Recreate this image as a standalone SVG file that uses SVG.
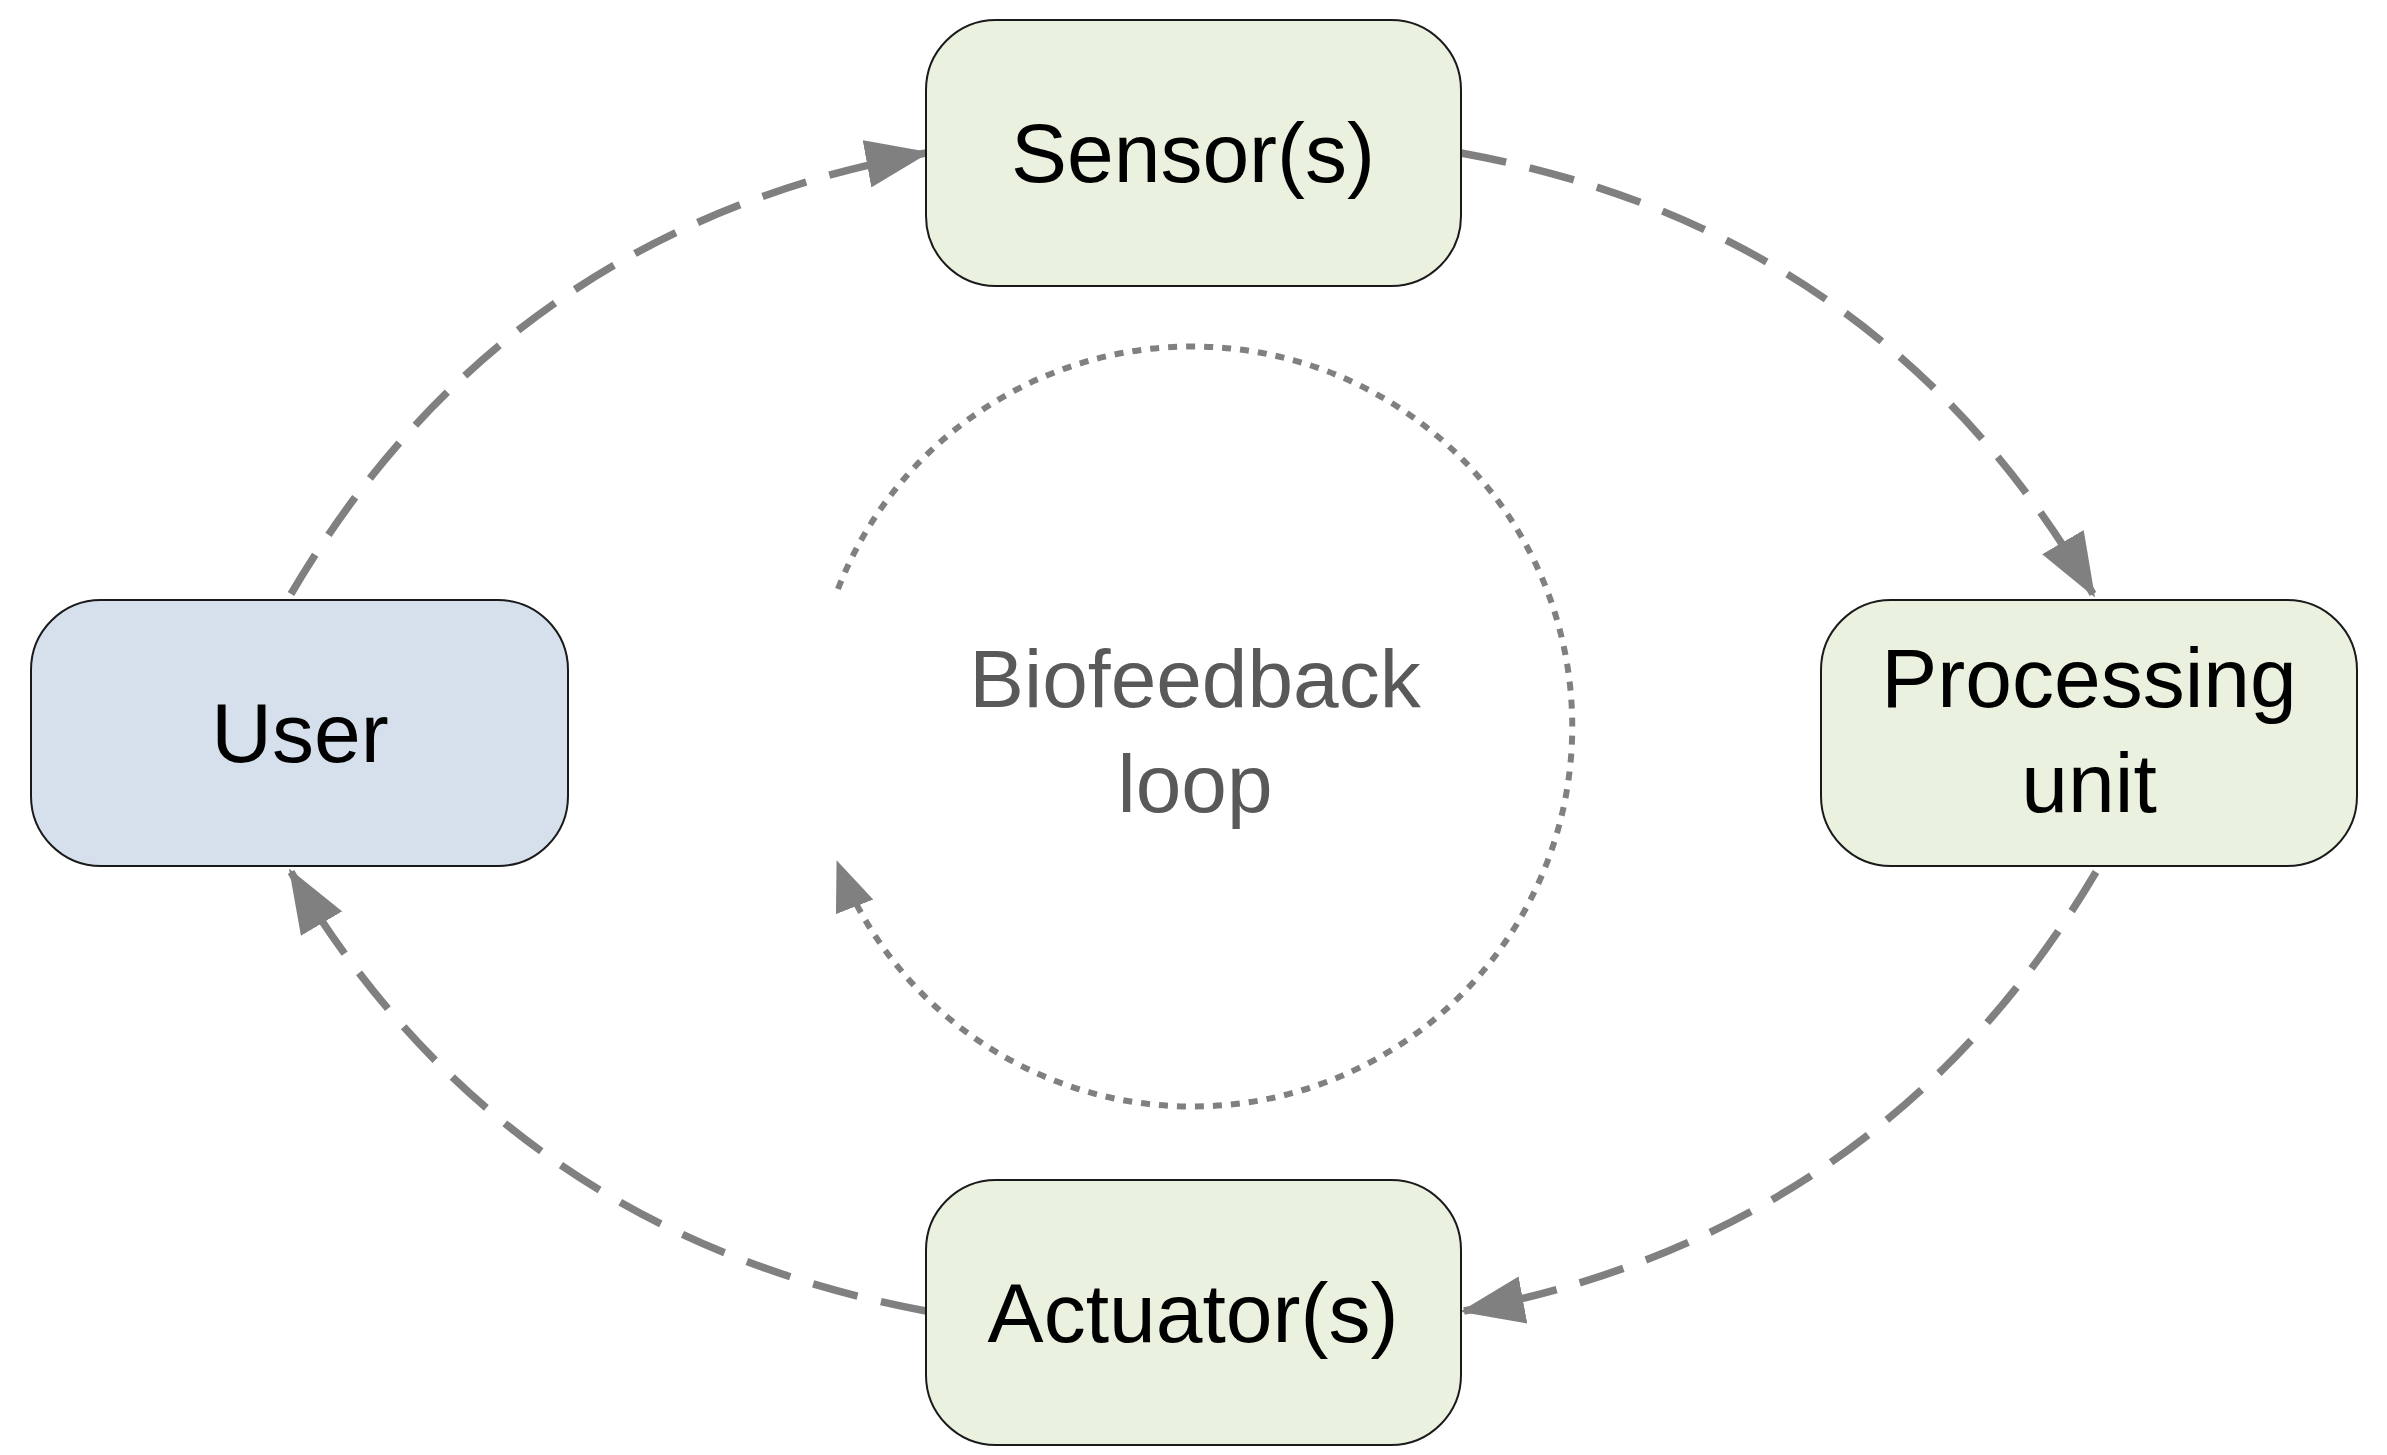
<svg xmlns="http://www.w3.org/2000/svg" width="2387" height="1455" viewBox="0 0 2387 1455">
<style>
.box{stroke:#1a1a1a;stroke-width:2}
.g{fill:#eaf1df}
.b{fill:#d6e0ed}
.t{font-family:"Liberation Sans",Arial,sans-serif;font-size:84px;fill:#000;text-anchor:middle}
.lt{font-family:"Liberation Sans",Arial,sans-serif;font-size:82px;fill:#595959;text-anchor:middle}
.c{fill:none;stroke:#808080;stroke-width:7.5;stroke-dasharray:46 24}
.d{fill:none;stroke:#808080;stroke-width:6;stroke-dasharray:9 9}
</style>
<defs>
<marker id="ah" markerUnits="userSpaceOnUse" markerWidth="64" markerHeight="48" refX="60" refY="24" orient="auto"><path d="M0,0 L64,24 L0,48 Z" fill="#808080"/></marker>
<marker id="ah2" markerUnits="userSpaceOnUse" markerWidth="50" markerHeight="40" refX="46" refY="20" orient="auto"><path d="M0,0 L50,20 L0,40 Z" fill="#808080"/></marker>
</defs>
<rect width="2387" height="1455" fill="#fff"/>
<g id="connectors">
<path class="c" d="M291,594 Q505,230 926,153" marker-end="url(#ah)"/>
<path class="c" d="M1461,153 Q1882,230 2093,594" marker-end="url(#ah)"/>
<path class="c" d="M2096,872 Q1882,1233 1464,1311" marker-end="url(#ah)"/>
<path class="c" d="M926,1311 Q505,1233 291,872" marker-end="url(#ah)"/>
<path class="d" d="M838,589 A380,380 0 1 1 838,864" marker-end="url(#ah2)"/>
</g>
<g id="sensor"><rect class="box g" x="926" y="20" width="535" height="266" rx="70"/><text class="t" x="1193" y="182">Sensor(s)</text></g>
<g id="user"><rect class="box b" x="31" y="600" width="537" height="266" rx="70"/><text class="t" x="300" y="762">User</text></g>
<g id="processing"><rect class="box g" x="1821" y="600" width="536" height="266" rx="70"/><text class="t" x="2089" y="707">Processing</text><text class="t" x="2089" y="812">unit</text></g>
<g id="actuator"><rect class="box g" x="926" y="1180" width="535" height="265" rx="70"/><text class="t" x="1193" y="1342">Actuator(s)</text></g>
<g id="loop"><text class="lt" x="1195" y="707">Biofeedback</text><text class="lt" x="1195" y="812">loop</text></g>
</svg>
